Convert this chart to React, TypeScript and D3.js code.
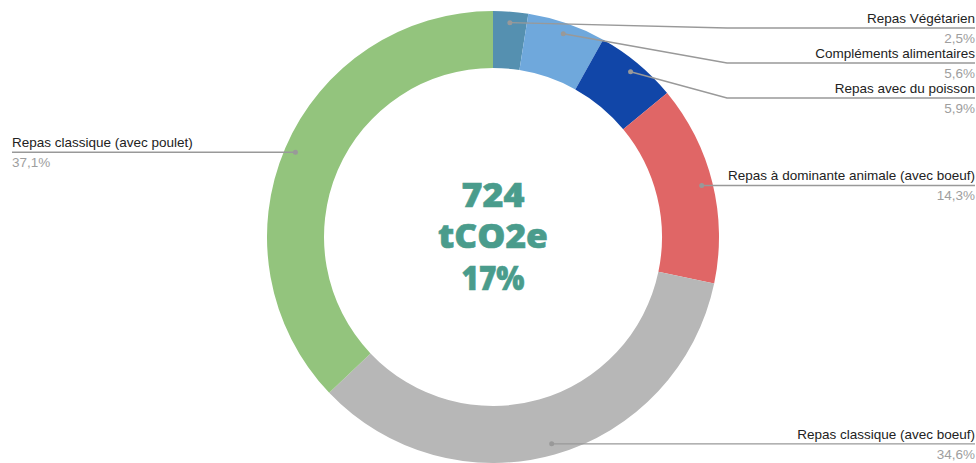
import { useMemo } from 'react';
import * as d3 from 'd3';

const categories = [
  'Repas Végétarien',
  'Compléments alimentaires',
  'Repas avec du poisson',
  'Repas à dominante animale (avec boeuf)',
  'Repas classique (avec boeuf)',
  'Repas classique (avec poulet)',
];
const shares = [2.5, 5.6, 5.9, 14.3, 34.6, 37.1];
const colors = ['#5590b0', '#6fa8dc', '#1146a8', '#e06666', '#b7b7b7', '#93c47d'];
const centerLines = ['724', 'tCO2e', '17%'];

const W = 976;
const H = 463;
const cx = 493;
const cy = 237;
const outerR = 226;
const innerR = 169;
const dotR = 215;

export default function App() {
  const arcs = useMemo(() => {
    const pie = d3
      .pie<number>()
      .sort(null)
      .value((d) => d);
    return pie(shares);
  }, []);

  const arc = d3.arc<d3.PieArcDatum<number>>().innerRadius(innerR).outerRadius(outerR);

  // leader label layout: right side labels get pushed down so they don't overlap
  const labels = useMemo(() => {
    let prevRight = -Infinity;
    return arcs.map((a, i) => {
      const mid = (a.startAngle + a.endAngle) / 2;
      const dx = dotR * Math.sin(mid);
      const dy = -dotR * Math.cos(mid);
      const right = dx >= 0;
      let lineY = cy + dy;
      if (right) {
        lineY = Math.max(lineY, prevRight + 35, 28);
        prevRight = lineY;
      }
      return { i, dotX: cx + dx, dotY: cy + dy, right, lineY };
    });
  }, [arcs]);

  const fmt = (v: number) => v.toFixed(1).replace('.', ',') + '%';
  const breakX = 727;

  return (
    <svg
      width={W}
      height={H}
      style={{ position: 'absolute', left: 0, top: 0, background: '#fff' }}
      fontFamily="'Liberation Sans', Arial, sans-serif"
    >
      <g transform={`translate(${cx},${cy})`}>
        {arcs.map((a, i) => (
          <path key={i} d={arc(a) ?? ''} fill={colors[i]} />
        ))}
      </g>

      {labels.map((l) => {
        const pts = l.right
          ? [
              [l.dotX, l.dotY],
              [Math.max(breakX, l.dotX), l.lineY],
              [975, l.lineY],
            ]
          : [
              [l.dotX, l.dotY],
              [12, l.lineY],
            ];
        const tx = l.right ? 975 : 12;
        const anchor = l.right ? 'end' : 'start';
        return (
          <g key={l.i}>
            <polyline
              points={pts.map((p) => p.join(',')).join(' ')}
              fill="none"
              stroke="#999"
              strokeWidth={1.4}
            />
            <circle cx={l.dotX} cy={l.dotY} r={2.5} fill="#999" />
            <text x={tx} y={l.lineY - 5} textAnchor={anchor} fontSize={13.5} fill="#222">
              {categories[l.i]}
            </text>
            <text x={tx} y={l.lineY + 15} textAnchor={anchor} fontSize={13.5} fill="#9e9e9e">
              {fmt(shares[l.i])}
            </text>
          </g>
        );
      })}

      <g
        fontFamily="'Open Sans', sans-serif"
        fontWeight={800}
        fill="#4a9c8c"
        stroke="#4a9c8c"
        strokeWidth={0.6}
        fontSize={33}
        textAnchor="middle"
      >
        <text x={cx} y={207} textLength={63} lengthAdjust="spacingAndGlyphs">
          {centerLines[0]}
        </text>
        <text x={cx} y={248} textLength={110} lengthAdjust="spacingAndGlyphs">
          {centerLines[1]}
        </text>
        <text x={cx} y={290} textLength={63} lengthAdjust="spacingAndGlyphs">
          {centerLines[2]}
        </text>
      </g>
    </svg>
  );
}
